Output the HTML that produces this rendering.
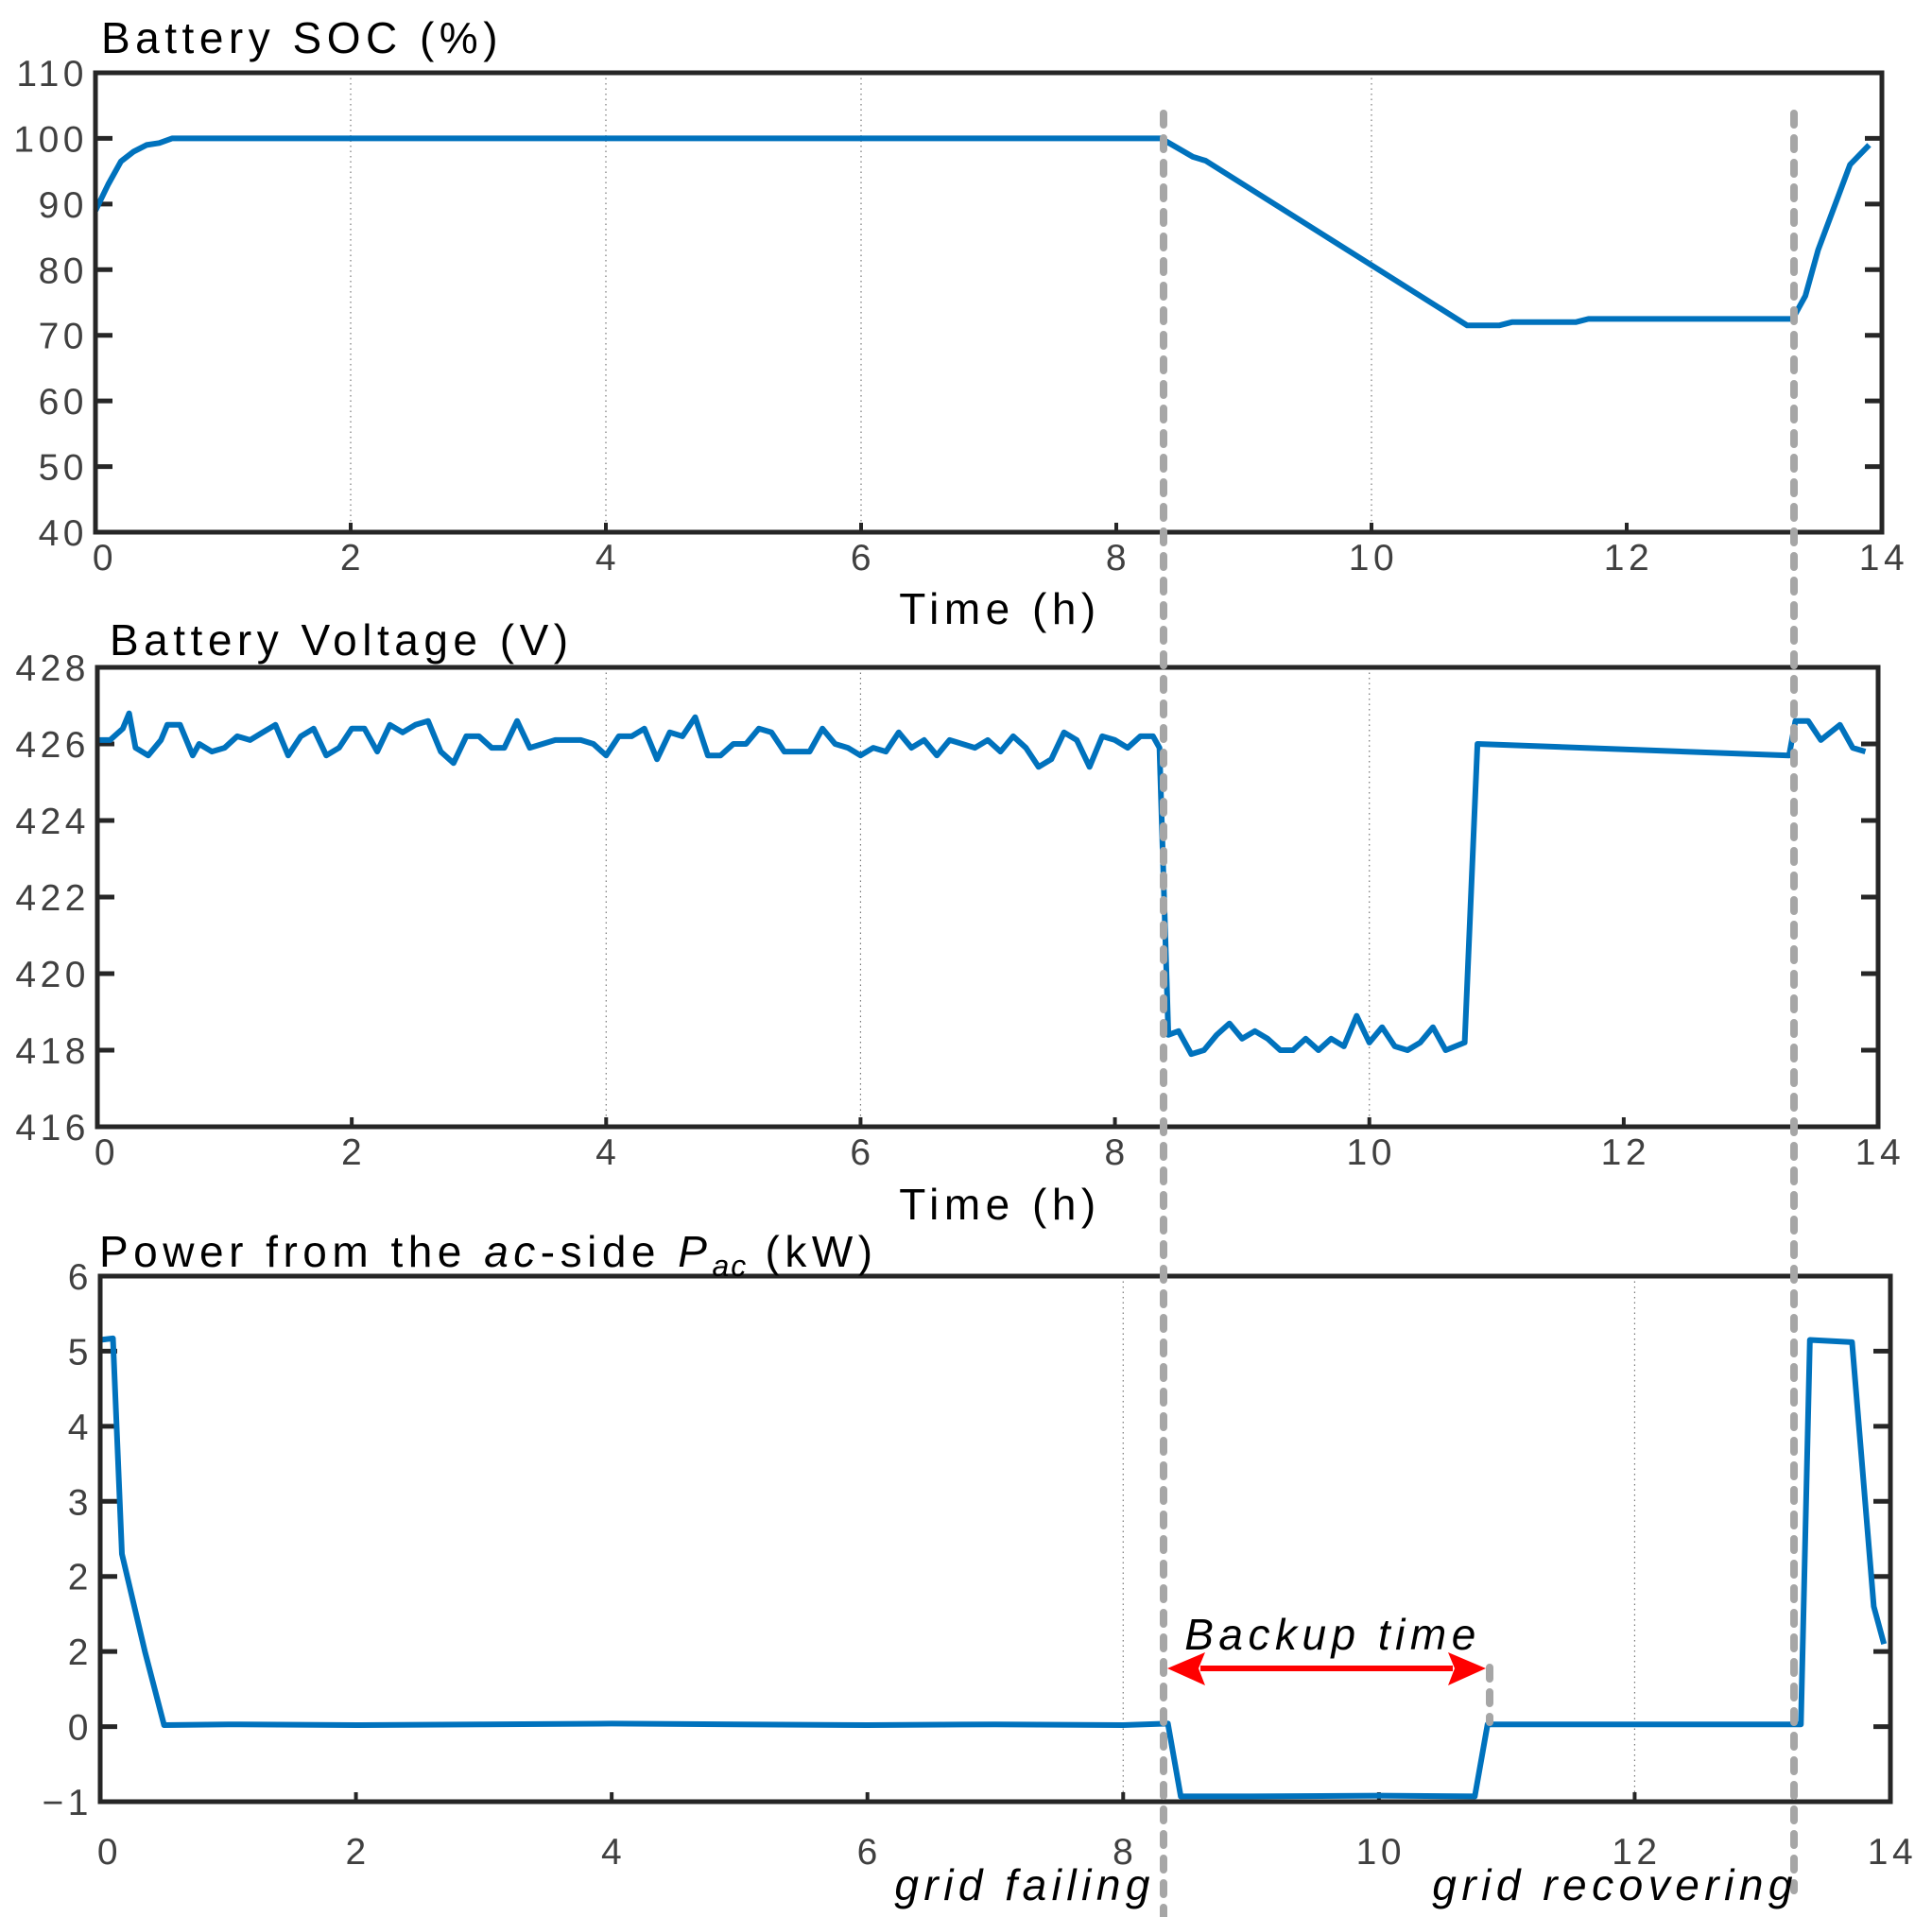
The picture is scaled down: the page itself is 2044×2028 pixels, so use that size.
<!DOCTYPE html>
<html><head><meta charset="utf-8"><style>
body{margin:0;background:#fff}
svg text{font-family:"Liberation Sans",Arial,sans-serif}
.tk{font-size:39px;fill:#404040;letter-spacing:4.5px}
.tt{font-size:46px;fill:#000;letter-spacing:5.5px}
</style></head><body>
<svg id="fig" width="2044" height="2028" viewBox="0 0 2044 2028" xmlns="http://www.w3.org/2000/svg" style="position:absolute;left:0;top:0"></svg>
<script>
const socX=[0,0.1,0.2,0.3,0.4,0.5,0.6,1,2,4,6,8,8.35,8.6,8.7,10.75,11.0,11.1,11.6,11.7,13.3,13.4,13.5,13.75,13.9];
const socY=[89,93,96.5,98,99,99.3,100,100,100,100,100,100,100,97.2,96.6,71.5,71.5,72,72,72.5,72.5,76,83,96,99];
const vX=[0,0.1,0.2,0.25,0.3,0.4,0.5,0.55,0.65,0.75,0.8,0.9,1.0,1.1,1.2,1.3,1.4,1.5,1.6,1.7,1.8,1.9,2.0,2.1,2.2,2.3,2.4,2.5,2.6,2.7,2.8,2.9,3.0,3.1,3.2,3.3,3.4,3.5,3.6,3.7,3.8,3.9,4.0,4.1,4.2,4.3,4.4,4.5,4.6,4.7,4.8,4.9,5.0,5.1,5.2,5.3,5.4,5.5,5.6,5.7,5.8,5.9,6.0,6.1,6.2,6.3,6.4,6.5,6.6,6.7,6.8,6.9,7.0,7.1,7.2,7.3,7.4,7.5,7.6,7.7,7.8,7.9,8.0,8.1,8.2,8.3,8.35,8.42,8.5,8.6,8.7,8.8,8.9,9.0,9.1,9.2,9.3,9.4,9.5,9.6,9.7,9.8,9.9,10.0,10.1,10.2,10.3,10.4,10.5,10.6,10.75,10.85,13.3,13.35,13.45,13.55,13.7,13.8,13.9];
const vY=[426.1,426.1,426.4,426.8,425.9,425.7,426.1,426.5,426.5,425.7,426,425.8,425.9,426.2,426.1,426.3,426.5,425.7,426.2,426.4,425.7,425.9,426.4,426.4,425.8,426.5,426.3,426.5,426.6,425.8,425.5,426.2,426.2,425.9,425.9,426.6,425.9,426,426.1,426.1,426.1,426,425.7,426.2,426.2,426.4,425.6,426.3,426.2,426.7,425.7,425.7,426,426,426.4,426.3,425.8,425.8,425.8,426.4,426,425.9,425.7,425.9,425.8,426.3,425.9,426.1,425.7,426.1,426,425.9,426.1,425.8,426.2,425.9,425.4,425.6,426.3,426.1,425.4,426.2,426.1,425.9,426.2,426.2,425.9,418.4,418.5,417.9,418.0,418.4,418.7,418.3,418.5,418.3,418.0,418.0,418.3,418.0,418.3,418.1,418.9,418.2,418.6,418.1,418.0,418.2,418.6,418.0,418.2,426.0,425.7,426.6,426.6,426.1,426.5,425.9,425.8];
const pX=[0,0.1,0.17,0.35,0.5,1,2,3,4,5,6,7,8,8.35,8.45,9,10,10.75,10.85,12,13.3,13.37,13.7,13.87,13.95];
const pY=[5.15,5.17,2.3,1.0,0.02,0.03,0.02,0.03,0.04,0.03,0.02,0.03,0.02,0.04,-0.93,-0.93,-0.92,-0.93,0.03,0.03,0.03,5.15,5.12,1.6,1.1];
const xTicks=[0,2,4,6,8,10,12,14];
const socTicks=[40,50,60,70,80,90,100,110];
const vTicks=[416,418,420,422,424,426,428];
const pTickVals=[-1,0,1,2,3,4,5,6];
const pTickLabels=["\u22121","0","2","2","3","4","5","6"];

const NS="http://www.w3.org/2000/svg";
const svg=document.getElementById('fig');
function el(tag,attrs,parent,text){const e=document.createElementNS(NS,tag);for(const k in attrs)e.setAttribute(k,attrs[k]);if(text!==undefined)e.textContent=text;(parent||svg).appendChild(e);return e;}
function mk(L,R,T,B,y0,y1){return{L,R,T,B,x:v=>L+(R-L)*v/14,y:v=>B-(B-T)*(v-y0)/(y1-y0)};}
const P1=mk(101,1991,77,563,40,110), P2=mk(103,1987,706,1192,416,428), P3=mk(106,2000,1350,1906,-1,6);

function panel(P,name,yVals,yLabels,grids,xs,ys,xlabBase){
  const g=el('g',{});
  
  
  grids.forEach(v=>{const l=el('line',{x1:P.x(v),x2:P.x(v),y1:P.T,y2:P.B,stroke:'#777','stroke-width':1.2,'stroke-dasharray':'1.5 4'},g);
    });
  yVals.forEach((v,i)=>{const y=P.y(v);
    el('line',{x1:P.L,x2:P.L+18,y1:y,y2:y,stroke:'#262626','stroke-width':5},g);
    el('line',{x1:P.R,x2:P.R-18,y1:y,y2:y,stroke:'#262626','stroke-width':5},g);
    const t=el('text',{x:P.L-8,y:y+14,'text-anchor':'end',class:'tk'},g,yLabels[i]);
    });
  xTicks.forEach(v=>{const x=P.x(v);
    el('line',{x1:x,x2:x,y1:P.B,y2:P.B-10,stroke:'#262626','stroke-width':4},g);
    const t=el('text',{x:x+(v===0?8:0)+2,y:xlabBase,'text-anchor':'middle',class:'tk'},g,String(v));
    });
  const pts=xs.map((v,i)=>P.x(v).toFixed(1)+','+P.y(ys[i]).toFixed(1)).join(' ');
  const pl=el('polyline',{points:pts,fill:'none',stroke:'#0072bd','stroke-width':6,'stroke-linejoin':'round'},g);
  
  const fr=el('rect',{x:P.L,y:P.T,width:P.R-P.L,height:P.B-P.T,fill:'none',stroke:'#262626','stroke-width':5},g);
  
}
panel(P1,'soc',socTicks,socTicks.map(String),[2,4,6,10],socX,socY,603);
panel(P2,'voltage',vTicks,vTicks.map(String),[4,6,10],vX,vY,1232);
panel(P3,'power',pTickVals,pTickLabels,[8,12],pX,pY,1972);

[[1231,120,2028,'grid-failing-line'],[1898,120,2000,'grid-recovering-line'],[1576,1764,1822,'backup-end-line']].forEach(d=>{
  const l=el('line',{x1:d[0],x2:d[0],y1:d[1],y2:d[2],stroke:'#a6a6a6','stroke-width':8,'stroke-dasharray':'12 14','stroke-linecap':'round'});
  });
const ar=el('g',{});

el('line',{x1:1270,x2:1537,y1:1765,y2:1765,stroke:'#ff0000','stroke-width':6},ar);
el('polygon',{points:'1235,1765 1275,1748 1268,1765 1275,1783',fill:'#ff0000'},ar);
el('polygon',{points:'1572,1765 1532,1748 1539,1765 1532,1783',fill:'#ff0000'},ar);
</script>
<svg width="2044" height="2028" xmlns="http://www.w3.org/2000/svg" style="position:absolute;left:0;top:0">
<text class="tt" x="107" y="56">Battery SOC (%)</text>
<text class="tt" x="116" y="693">Battery Voltage (V)</text>
<text class="tt" x="105" y="1340">Power from the <tspan font-style="italic">ac</tspan>-side <tspan font-style="italic">P</tspan><tspan font-style="italic" font-size="32" dy="10" letter-spacing="2">ac</tspan><tspan dy="-10"> (kW)</tspan></text>
<text class="tt" x="1058" y="660" text-anchor="middle">Time (h)</text>
<text class="tt" x="1058" y="1290" text-anchor="middle">Time (h)</text>
<text class="tt" x="1410" y="1745" text-anchor="middle" font-style="italic">Backup time</text>
<text class="tt" x="1222" y="2010" text-anchor="end" font-style="italic">grid failing</text>
<text class="tt" x="1902" y="2010" text-anchor="end" font-style="italic">grid recovering</text>
</svg>
</body></html>
